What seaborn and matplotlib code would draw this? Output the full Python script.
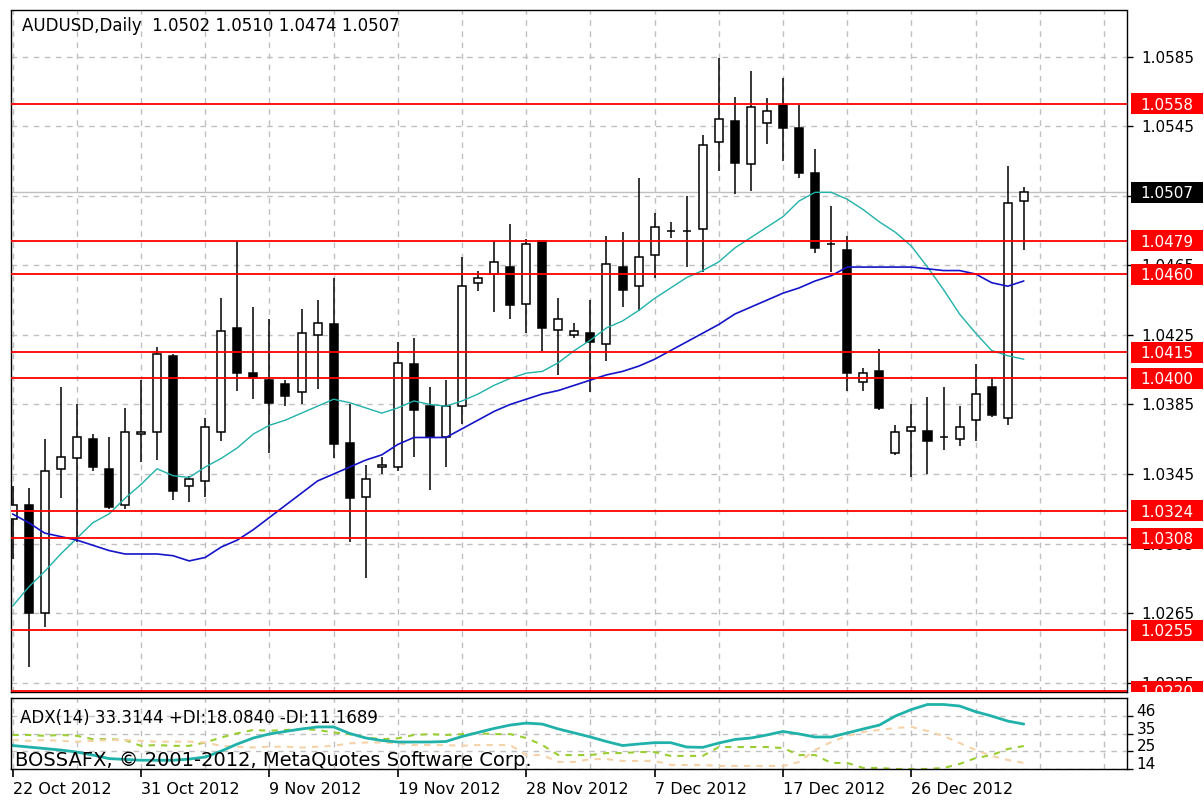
import numpy as np
import matplotlib
matplotlib.use("Agg")
import matplotlib.pyplot as plt
import matplotlib.transforms as mtransforms
from matplotlib.patches import Rectangle, Polygon
import seaborn as sns

# ---- data (AUDUSD daily, one bar per trading day) ----
open_ = [1.0319, 1.0327, 1.0265, 1.0348, 1.0354, 1.0365, 1.0348, 1.0327, 1.0368, 1.0369,
         1.0413, 1.0338, 1.0341, 1.0369, 1.0429, 1.0403, 1.0399, 1.0397, 1.0392, 1.0425,
         1.0431, 1.0363, 1.0332, 1.0349, 1.0349, 1.0408, 1.0384, 1.0366, 1.0384, 1.0455,
         1.0460, 1.0464, 1.0443, 1.0479, 1.0428, 1.0425, 1.0426, 1.0420, 1.0464, 1.0453,
         1.0471, 1.0485, 1.0485, 1.0486, 1.0536, 1.0548, 1.0523, 1.0547, 1.0557, 1.0544,
         1.0518, 1.0477, 1.0474, 1.0398, 1.0404, 1.0357, 1.0370, 1.0370, 1.0366, 1.0365,
         1.0376, 1.0395, 1.0377, 1.0502]
high = [1.0338, 1.0337, 1.0365, 1.0395, 1.0385, 1.0368, 1.0366, 1.0383, 1.0399, 1.0418,
        1.0414, 1.0344, 1.0377, 1.0446, 1.0479, 1.0441, 1.0434, 1.0399, 1.0440, 1.0445,
        1.0458, 1.0385, 1.0350, 1.0355, 1.0421, 1.0423, 1.0395, 1.0399, 1.0470, 1.0462,
        1.0479, 1.0489, 1.0480, 1.0479, 1.0446, 1.0432, 1.0445, 1.0482, 1.0484, 1.0515,
        1.0495, 1.0490, 1.0505, 1.0540, 1.0584, 1.0562, 1.0577, 1.0561, 1.0573, 1.0557,
        1.0532, 1.0499, 1.0482, 1.0406, 1.0417, 1.0373, 1.0385, 1.0389, 1.0395, 1.0384,
        1.0408, 1.0401, 1.0522, 1.0510]
low = [1.0296, 1.0234, 1.0257, 1.0331, 1.0306, 1.0347, 1.0325, 1.0325, 1.0352, 1.0353,
       1.0330, 1.0329, 1.0332, 1.0364, 1.0393, 1.0388, 1.0357, 1.0384, 1.0385, 1.0394,
       1.0354, 1.0306, 1.0285, 1.0345, 1.0347, 1.0355, 1.0336, 1.0349, 1.0374, 1.0450,
       1.0438, 1.0434, 1.0426, 1.0416, 1.0402, 1.0423, 1.0392, 1.0410, 1.0441, 1.0439,
       1.0458, 1.0481, 1.0464, 1.0461, 1.0519, 1.0506, 1.0508, 1.0535, 1.0525, 1.0515,
       1.0472, 1.0461, 1.0393, 1.0393, 1.0382, 1.0356, 1.0343, 1.0345, 1.0359, 1.0361,
       1.0364, 1.0378, 1.0373, 1.0474]
close = [1.0327, 1.0265, 1.0347, 1.0355, 1.0366, 1.0349, 1.0326, 1.0369, 1.0369, 1.0414,
         1.0335, 1.0342, 1.0372, 1.0427, 1.0403, 1.0400, 1.0386, 1.0390, 1.0426, 1.0432,
         1.0362, 1.0331, 1.0342, 1.0350, 1.0409, 1.0382, 1.0366, 1.0384, 1.0453, 1.0458,
         1.0467, 1.0442, 1.0477, 1.0429, 1.0434, 1.0427, 1.0421, 1.0466, 1.0451, 1.0470,
         1.0487, 1.0485, 1.0485, 1.0534, 1.0549, 1.0524, 1.0556, 1.0554, 1.0544, 1.0518,
         1.0475, 1.0477, 1.0403, 1.0403, 1.0383, 1.0369, 1.0372, 1.0364, 1.0366, 1.0372,
         1.0391, 1.0379, 1.0501, 1.0507]

# moving averages (teal = fast, blue = slow)
ma_fast = [1.0269, 1.0280, 1.0289, 1.0299, 1.0308, 1.0317, 1.0322, 1.0331, 1.0339, 1.0348,
           1.0344, 1.0343, 1.0349, 1.0354, 1.0360, 1.0368, 1.0373, 1.0376, 1.0380, 1.0384,
           1.0388, 1.0386, 1.0383, 1.0380, 1.0383, 1.0387, 1.0385, 1.0384, 1.0387, 1.0391,
           1.0396, 1.0400, 1.0403, 1.0404, 1.0409, 1.0416, 1.0422, 1.0429, 1.0433, 1.0439,
           1.0446, 1.0452, 1.0458, 1.0462, 1.0467, 1.0475, 1.0481, 1.0487, 1.0493, 1.0502,
           1.0507, 1.0507, 1.0503, 1.0497, 1.0490, 1.0484, 1.0476, 1.0464, 1.0451, 1.0437,
           1.0426, 1.0416, 1.0413, 1.0411]
ma_slow = [1.0322, 1.0317, 1.0311, 1.0309, 1.0307, 1.0304, 1.0301, 1.0299, 1.0299, 1.0299,
           1.0298, 1.0295, 1.0297, 1.0303, 1.0307, 1.0313, 1.0320, 1.0327, 1.0334, 1.0341,
           1.0345, 1.0349, 1.0353, 1.0356, 1.0362, 1.0366, 1.0366, 1.0366, 1.0371, 1.0376,
           1.0381, 1.0385, 1.0388, 1.0391, 1.0393, 1.0396, 1.0399, 1.0402, 1.0404, 1.0407,
           1.0411, 1.0416, 1.0421, 1.0426, 1.0431, 1.0437, 1.0441, 1.0445, 1.0449, 1.0452,
           1.0456, 1.0459, 1.0464, 1.0464, 1.0464, 1.0464, 1.0464, 1.0463, 1.0462, 1.0462,
           1.0460, 1.0455, 1.0453, 1.0456]

# ADX(14) panel
adx = [28.2, 27.3, 26.4, 25.5, 24.3, 22.5, 20.4, 19.9, 19.4, 19.4,
       19.4, 20.1, 21.3, 24.9, 29.1, 32.7, 35.1, 36.6, 38.1, 39.3,
       39.3, 35.4, 32.7, 31.2, 30.3, 30.3, 30.3, 30.6, 33.6, 36.0,
       38.4, 40.4, 41.6, 41.0, 38.1, 35.7, 33.3, 30.6, 28.2, 29.1,
       29.9, 29.9, 27.3, 27.1, 29.7, 31.8, 32.7, 34.5, 36.6, 35.1,
       33.3, 33.3, 35.7, 38.1, 40.4, 45.8, 49.7, 52.7, 52.7, 51.8,
       48.4, 45.8, 42.8, 41.0]
plus_di = [34.5, 34.5, 34.0, 34.5, 34.0, 32.0, 32.0, 31.5, 28.0, 28.5,
           28.0, 28.0, 30.0, 33.0, 35.5, 37.5, 37.0, 37.5, 38.0, 37.5,
           36.0, 35.0, 33.0, 32.0, 32.5, 34.5, 35.0, 34.5, 35.0, 35.5,
           35.0, 35.0, 32.7, 28.5, 22.5, 22.5, 22.5, 23.7, 23.7, 24.3,
           24.3, 22.0, 22.0, 22.0, 27.3, 27.3, 27.3, 27.3, 26.7, 22.5,
           22.5, 17.8, 17.8, 14.8, 14.8, 14.2, 14.2, 14.2, 14.8, 17.2,
           20.7, 22.5, 26.1, 27.9]
minus_di = [31.5, 31.0, 31.5, 31.0, 30.5, 31.0, 31.5, 31.5, 31.0, 30.5,
            30.5, 30.5, 30.0, 28.0, 27.5, 27.0, 27.5, 27.5, 27.0, 27.5,
            28.0, 29.5, 30.0, 30.0, 29.5, 28.5, 28.5, 28.5, 28.0, 28.5,
            28.5, 28.5, 22.5, 22.5, 18.4, 18.4, 20.1, 20.1, 19.0, 19.0,
            19.0, 16.6, 16.6, 16.6, 16.0, 16.0, 16.0, 16.0, 16.0, 18.4,
            25.5, 30.3, 33.9, 36.3, 37.5, 38.7, 39.3, 36.9, 33.9, 29.7,
            25.5, 21.9, 19.6, 17.8]

# horizontal support / resistance levels and the last bid
levels = [1.0558, 1.0479, 1.0460, 1.0415, 1.0400, 1.0324, 1.0308, 1.0255, 1.0220]
bid = 1.0507
price_ticks = [1.0225, 1.0265, 1.0305, 1.0345, 1.0385, 1.0425, 1.0465, 1.0505, 1.0545, 1.0585]
adx_ticks = [14, 25, 35, 46]

date_labels = ["22 Oct 2012", "31 Oct 2012", "9 Nov 2012", "19 Nov 2012",
               "28 Nov 2012", "7 Dec 2012", "17 Dec 2012", "26 Dec 2012"]
label_bars = [0, 8, 16, 24, 32, 40, 48, 56]

title = "AUDUSD,Daily  1.0502 1.0510 1.0474 1.0507"
adx_title = "ADX(14) 33.3144 +DI:18.0840 -DI:11.1689"
footer = "BOSSAFX, \u00a9 2001-2012, MetaQuotes Software Corp."

# ---- style ----
sns.set_theme(style="white")
plt.rcParams["font.family"] = ["DejaVu Sans"]

W, H = 1204, 801
fig = plt.figure(figsize=(W / 100, H / 100), dpi=100)
fig.patch.set_facecolor("white")

left, right = 11, 1127
main_top, main_bot = 10.5, 691.7
adx_top, adx_bot = 698.3, 769.3
ax = fig.add_axes([left / W, 1 - main_bot / H, (right - left) / W, (main_bot - main_top) / H])
ax2 = fig.add_axes([left / W, 1 - adx_bot / H, (right - left) / W, (adx_bot - adx_top) / H])

o, h, l, c = map(np.array, (open_, high, low, close))
bars = np.arange(len(c))
up = c >= o

grid_kw = dict(color="#C0C0C0", ls=(0, (4, 4)), lw=1.0)

# candles
ax.vlines(bars, l, h, color="black", lw=1.1, zorder=3)
ax.bar(bars[up], (c - o)[up], bottom=o[up], width=0.5, facecolor="white",
       edgecolor="black", lw=1.1, zorder=4)
ax.bar(bars[~up], (o - c)[~up], bottom=c[~up], width=0.5, facecolor="black",
       edgecolor="black", lw=1.1, zorder=4)

sns.lineplot(x=bars, y=ma_fast, ax=ax, color="#20B2AA", lw=1.0, zorder=5, legend=False)
sns.lineplot(x=bars, y=ma_slow, ax=ax, color="#1414C8", lw=1.2, zorder=5, legend=False)

for lv in levels:
    ax.axhline(lv, color="#FF0000", lw=1.3, zorder=6)
ax.axhline(bid, color="#C0C0C0", lw=1.0, zorder=1.5)

ylo, yhi = 1.02198, 1.061155
ax.set_xlim(-0.1, 69.43)
ax.set_ylim(ylo, yhi)
ax.set_xticks(range(0, 72, 4))
ax.set_yticks(price_ticks)
# the 1.0505 label sits fully under the bid tag
ax.set_yticklabels(["" if abs(p - bid) < 0.0003 else f"{p:.4f}" for p in price_ticks])
ax.yaxis.tick_right()
ax.tick_params(axis="x", length=0, labelbottom=False)
ax.tick_params(axis="y", direction="out", length=4, width=1, pad=6, labelsize=11,
               colors="black", left=False, right=True, labelleft=False, labelright=True)
ax.grid(True, **grid_kw)
ax.set_axisbelow(True)
ax.set_xlabel("")
ax.set_ylabel("")

# price tags on the right side (boxes clipped to the height of the price panel)
tag_tr = mtransforms.blended_transform_factory(ax.transAxes, ax.transData)
px_per_unit = (main_bot - main_top) / (yhi - ylo)
tag_h = 21 / px_per_unit
tag_x0 = (1130.5 - left) / (right - left)
tag_w = 72 / (right - left)
y0, y1 = 1 - main_bot / H, 1 - 2 / H
clip_poly = Polygon([[0, y0], [1, y0], [1, y1], [0, y1]], closed=True,
                    transform=fig.transFigure)
for lv, fc in [(lv, "#FF0000") for lv in levels] + [(bid, "black")]:
    box = Rectangle((tag_x0, lv - tag_h / 2), tag_w, tag_h, transform=tag_tr,
                    facecolor=fc, edgecolor="none", zorder=10)
    box.set_clip_path(clip_poly)
    ax.add_patch(box)
    ax.text(tag_x0 + tag_w / 2, lv, f"{lv:.4f}", transform=tag_tr, ha="center",
            va="center_baseline", color="white", fontsize=11, zorder=11, clip_on=False)

for sp in ax.spines.values():
    sp.set_color("black")
    sp.set_linewidth(1.0)

# ADX panel
sns.lineplot(x=bars, y=plus_di, ax=ax2, color="#9ACD32", lw=1.5, ls=(0, (3, 3)), legend=False)
sns.lineplot(x=bars, y=minus_di, ax=ax2, color="#F5D2A8", lw=1.5, ls=(0, (3, 3)), legend=False)
sns.lineplot(x=bars, y=adx, ax=ax2, color="#20B2AA", lw=2.0, legend=False)
ax2.set_xlim(-0.1, 69.43)
ax2.set_ylim(14, 56.4)
ax2.set_yticks(adx_ticks)
ax2.yaxis.tick_right()
ax2.tick_params(axis="y", direction="out", length=4, width=1, pad=3, labelsize=11,
                colors="black", left=False, right=True, labelleft=False, labelright=True)
for lab in ax2.get_yticklabels():
    lab.set_verticalalignment("baseline")
ax2.set_xticks(label_bars)
ax2.set_xticklabels(date_labels, ha="left")
ax2.set_xticks([b for b in range(4, 72, 4) if b not in label_bars], minor=True)
ax2.tick_params(axis="x", which="major", direction="out", length=6, width=1.2, pad=3,
                labelsize=11.5, colors="black", bottom=True)
ax2.tick_params(axis="x", which="minor", length=0)
ax2.grid(True, which="both", axis="x", **grid_kw)
ax2.grid(True, which="major", axis="y", **grid_kw)
ax2.set_axisbelow(True)
ax2.set_xlabel("")
ax2.set_ylabel("")
for sp in ax2.spines.values():
    sp.set_color("black")
    sp.set_linewidth(1.0)

fig.text(22 / W, 1 - 26 / H, title, fontsize=12, color="black", ha="left", va="center")
fig.text(20 / W, 1 - 718 / H, adx_title, fontsize=12, color="black", ha="left", va="center")
fig.text(15 / W, 1 - 761 / H, footer, fontsize=14, color="black", ha="left", va="center")

fig.savefig("out.png", dpi=100)
